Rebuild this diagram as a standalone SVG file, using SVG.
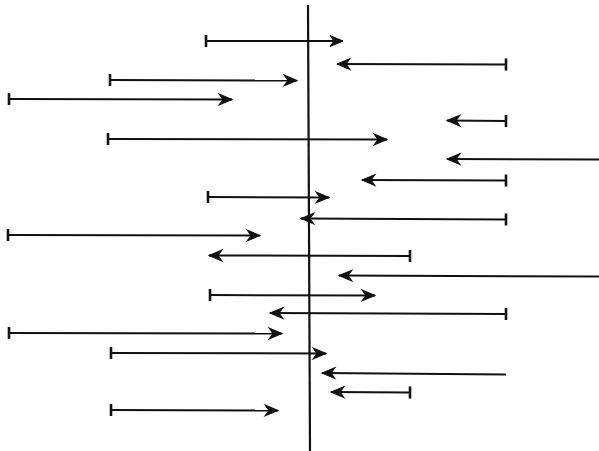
<svg xmlns="http://www.w3.org/2000/svg" width="599" height="451" viewBox="0 0 599 451">
  <style>
    .bg { fill: #ffffff; }
    .axis { stroke: #111; stroke-width: 2.2; fill: none; }
    .vec { stroke: #111; stroke-width: 2; fill: none; marker-end: url(#head); }
    .tail { marker-start: url(#tick); }
  </style>
  <defs>
    <!-- barbed arrowhead, tip at the path end -->
    <marker id="head" markerUnits="userSpaceOnUse" markerWidth="16" markerHeight="14" refX="14" refY="7" orient="auto" overflow="visible">
      <path d="M14,7 L1,1.5 L5,7 L1,12.5 Z" fill="#111" stroke="#111" stroke-width="1" stroke-linejoin="miter"/>
    </marker>
    <!-- short upright bar at the tail end -->
    <marker id="tick" markerUnits="userSpaceOnUse" markerWidth="6" markerHeight="14" refX="3" refY="7" orient="0" overflow="visible">
      <line x1="3" y1="1" x2="3" y2="13" stroke="#111" stroke-width="2.6"/>
    </marker>
  </defs>
  <rect class="bg" x="0" y="0" width="599" height="451"/>

  <!-- vertical reference line -->
  <g id="axis">
    <line class="axis" x1="308" y1="5" x2="310" y2="451"/>
  </g>

  <!-- horizontal vectors: tail (bar) to head (arrow) -->
  <g id="vectors">
    <path class="vec tail" d="M206,41 L343,41"/>
    <path class="vec tail" d="M506,64.5 L337,64"/>
    <path class="vec tail" d="M110,80 L297,80.5"/>
    <path class="vec tail" d="M9,99 L232,99.5"/>
    <path class="vec tail" d="M506,121 L447,120.5"/>
    <path class="vec tail" d="M108,139 L387,139.5"/>
    <path class="vec" d="M599,159.5 L447,159"/>
    <path class="vec tail" d="M506,180.5 L362,180"/>
    <path class="vec tail" d="M208,197 L329,197.5"/>
    <path class="vec tail" d="M506,219.5 L301,218.5"/>
    <path class="vec tail" d="M8,235 L260,235.5"/>
    <path class="vec tail" d="M410,256 L209,255.5"/>
    <path class="vec" d="M599,276.5 L339,275.5"/>
    <path class="vec tail" d="M210,295 L375,295.5"/>
    <path class="vec tail" d="M506,314 L270,313"/>
    <path class="vec tail" d="M9,333 L282,333.5"/>
    <path class="vec tail" d="M111,353 L326,353.5"/>
    <path class="vec" d="M506,374.5 L322,373"/>
    <path class="vec tail" d="M410,392.5 L331,392"/>
    <path class="vec tail" d="M111,410 L278,410.5"/>
  </g>
</svg>
